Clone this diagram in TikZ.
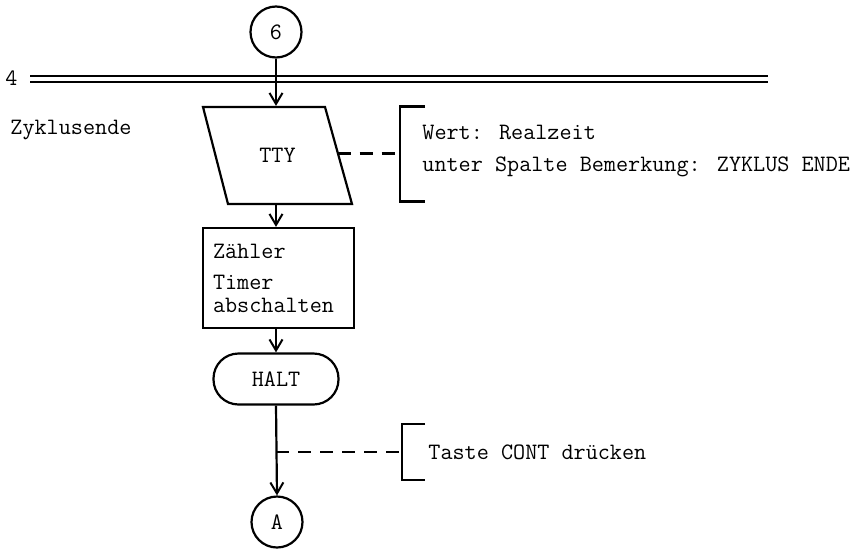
\documentclass[tikz,border=0pt]{standalone}
\usepackage{fontspec}
\usepackage{tikz}
\usetikzlibrary{arrows.meta, positioning, calc, shapes}

\begin{document}
\begin{tikzpicture}[x=1pt, y=-1pt, line width=2.2pt,
    font=\fontsize{23.5}{23}\selectfont\ttfamily,
    >={Straight Barb[length=11pt,width=13pt,line width=2pt]},
    conn/.style={draw, circle, minimum size=51pt, inner sep=0pt},
    iobox/.style={rectangle, minimum width=149pt, minimum height=97pt, inner sep=0pt},
    procbox/.style={draw, rectangle, minimum width=151pt, minimum height=100pt, align=left,
      text width=131pt, inner xsep=10pt, inner ysep=0pt},
    termbox/.style={draw, rectangle, rounded corners=25pt, minimum width=125pt, minimum height=51pt},
    dashline/.style={dash pattern=on 13pt off 9pt}]
  \useasboundingbox (0,0) rectangle (861,549);
  % connector and level line
  \node[conn] (c6) at (276,32) {6};
  \draw (30,76) coordinate (lvlA) -- (768,76);
  \draw (30,82) -- (768,82);
  \node[anchor=east] (lvl) at (lvlA) [xshift=-8pt, yshift=-2pt] {4};
  \node[anchor=west] (zend) at (6,130) {Zyklusende};
  % output to TTY
  \node[iobox] (tty) at (277.5,155.5) {TTY};
  \draw ($(tty)+(-74.5,-48.5)$) -- ($(tty)+(47.5,-48.5)$) -- ($(tty)+(74.5,48.5)$)
    -- ($(tty)+(-49.5,48.5)$) -- cycle;
  \coordinate (ttyR) at ($(tty)+(60,-2)$);
  \draw[->] (c6.south) -- (c6.south |- tty.north);
  \coordinate (brk1) at (400,153.5);
  \draw[dashline] (ttyR) -- (ttyR -| brk1);
  \draw ($(brk1)+(25,-47)$) -- ++(-25,0) -- ++(0,95) -- ++(25,0);
  \node[anchor=west] (note1a) at (418,132) {Wert: Realzeit};
  \node[anchor=west] (note1b) at (418,167) {unter Spalte Bemerkung: ZYKLUS ENDE};
  % stop counter
  \node[procbox] (cnt) at (278.5,278) {Zähler\\[8pt]Timer\\abschalten};
  \draw[->] (c6.south |- tty.south) -- (c6.south |- cnt.north);
  % halt
  \node[termbox] (halt) at (276,379) {HALT};
  \draw[->] (c6.south |- cnt.south) -- (c6.south |- halt.north);
  \node[conn] (ca) at (277,522) {A};
  \draw[->] (halt.south) -- (ca.north);
  \coordinate (brk2) at (402,452);
  \draw[dashline] (halt.south |- brk2) -- (brk2);
  \draw ($(brk2)+(23,-28)$) -- ++(-23,0) -- ++(0,56) -- ++(23,0);
  \node[anchor=west] (note2) at (424,452) {Taste CONT drücken};
\end{tikzpicture}
\end{document}
